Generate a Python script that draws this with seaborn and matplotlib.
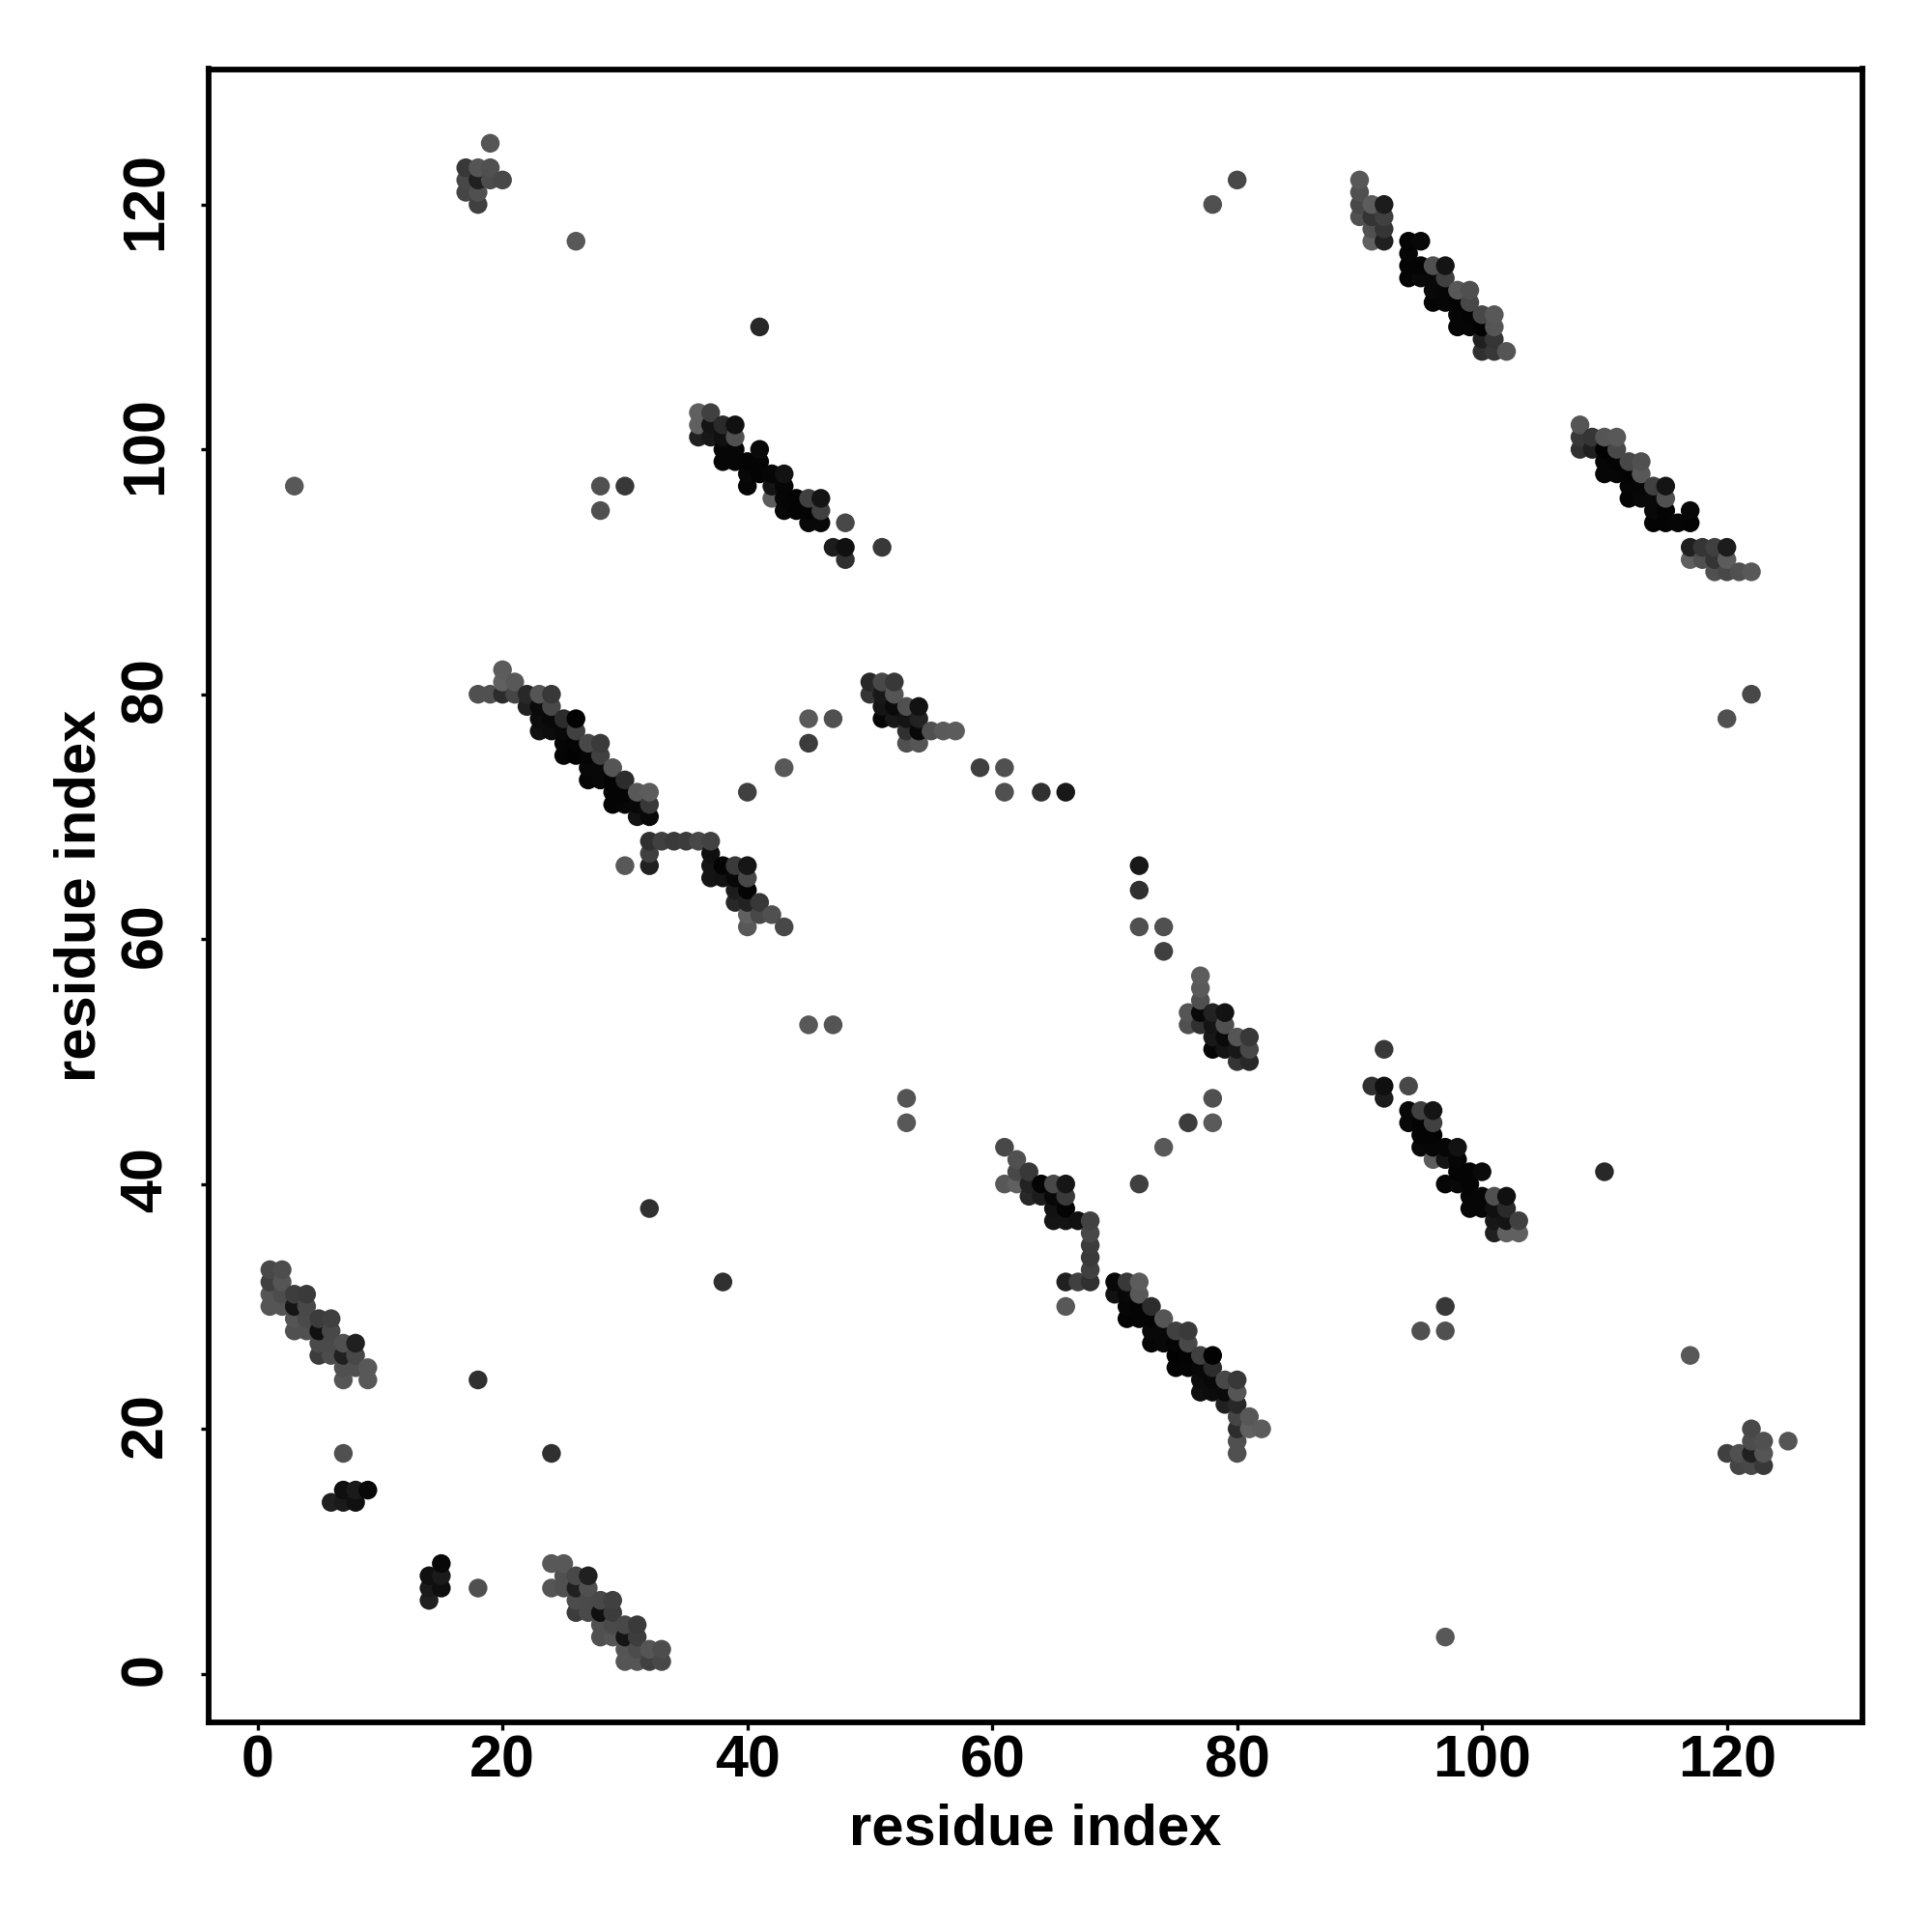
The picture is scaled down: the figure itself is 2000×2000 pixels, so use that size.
# Residue contact map, symmetric so only the i < j half is listed
import pandas as pd
import matplotlib.pyplot as plt
from matplotlib.transforms import ScaledTranslation
import seaborn as sns

# short strand pairs
block_a_i = [1,2, 1,2, 1,2,3,4, 1,2,3,4, 3,4,5,6, 3,4,5,6, 5,6,7,8, 5,6,7,8, 7,8,9, 7,9]
block_a_j = [33,33, 32,32, 31,31,31,31, 30,30,30,30, 29,29,29,29, 28,28,28,28, 27,27,27,27, 26,26,26,26, 25,25,25, 24,24]
block_a_shade = [0x48,0x4d, 0x40,0x55, 0x55,0x4c,0x3d,0x3a, 0x55,0x55,0x15,0x48, 0x55,0x4a,0x3c,0x40,
                 0x50,0x50,0x10,0x48, 0x4a,0x4a,0x50,0x20, 0x3c,0x4c,0x20,0x48, 0x50,0x50,0x58, 0x55,0x58]

block_b_i = [7,8,9, 6,7,8]
block_b_j = [15,15,15, 14,14,14]
block_b_shade = [0x0f,0x1a,0x08, 0x20,0x1a,0x10]

block_c_i = [19, 17,18,19, 17,18,19,20, 17,18, 18]
block_c_j = [125, 123,123,123, 122,122,122,122, 121,121, 120]
block_c_shade = [0x55, 0x38,0x55,0x50, 0x48,0x20,0x4c,0x48, 0x45,0x50, 0x40]

# long helix pairs
block_d_i = [20, 20,21, 18,19,20,21,22,23,24, 22,23,24, 23,24,25,26, 23,24,25,26, 25,26,27,28,
             25,26,27,28, 27,28,29, 27,28,29,30, 29,30,31,32, 29,30,31,32, 31,32]
block_d_j = [82, 81,81, 80,80,80,80,80,80,80, 79,79,79, 78,78,78,78, 77,77,77,77, 76,76,76,76,
             75,75,75,75, 74,74,74, 73,73,73,73, 72,72,72,72, 71,71,71,71, 70,70]
block_d_shade = [0x5c, 0x60,0x58, 0x50,0x50,0x2c,0x45,0x28,0x55,0x38, 0x20,0x0a,0x48,
                 0x0c,0x08,0x2c,0x02, 0x10,0x0c,0x08,0x40, 0x05,0x04,0x48,0x3a,
                 0x04,0x02,0x05,0x40, 0x08,0x08,0x55, 0x06,0x08,0x04,0x2c,
                 0x04,0x04,0x58,0x5c, 0x04,0x06,0x08,0x38, 0x12,0x08]

block_e_i = [32,33,34,35,36,37, 32,37, 32,37,38,39,40, 37,38,39,40, 39,40, 39,40,41, 40,41,42, 40,43]
block_e_j = [68,68,68,68,68,68, 67,67, 66,66,66,66,66, 65,65,65,65, 64,64, 63,63,63, 62,62,62, 61,61]
block_e_shade = [0x30,0x40,0x3a,0x3c,0x48,0x42, 0x40,0x10, 0x20,0x14,0x04,0x3a,0x16,
                 0x14,0x12,0x08,0x48, 0x1c,0x04, 0x28,0x22,0x38, 0x60,0x48,0x50, 0x58,0x48]

block_h_i = [50,51,52, 50,51,52, 51,52,53,54, 51,52,53,54, 53,54,55,56,57, 53,54]
block_h_j = [81,81,81, 80,80,80, 79,79,79,79, 78,78,78,78, 77,77,77,77,77, 76,76]
block_h_shade = [0x28,0x48,0x38, 0x35,0x18,0x55, 0x14,0x0a,0x50,0x12, 0x06,0x18,0x14,0x22,
                 0x30,0x08,0x50,0x5a,0x5c, 0x50,0x55]

block_k_i = [36,37, 36,37,38,39, 36,37,38,39, 38,39,41, 38,39,40,41, 40,41,42,43, 40,42,43,
             42,43,44,45,46, 43,44,45,46, 45,46,48, 47,48, 48]
block_k_j = [103,103, 102,102,102,102, 101,101,101,101, 100,100,100, 99,99,99,99, 98,98,98,98, 97,97,97,
             96,96,96,96,96, 95,95,95,95, 94,94,94, 92,92, 91]
block_k_shade = [0x60,0x40, 0x60,0x14,0x2a,0x10, 0x20,0x18,0x10,0x50, 0x06,0x06,0x0a, 0x06,0x06,0x04,0x04,
                 0x08,0x04,0x06,0x12, 0x06,0x14,0x06, 0x5c,0x06,0x04,0x40,0x14, 0x08,0x04,0x04,0x40,
                 0x08,0x08,0x48, 0x1c,0x10, 0x30]

block_m_i = [90, 90, 90,91,92, 90,91,92, 91,92, 91,92,94,95, 94, 94,95,96,97, 94,95,96,97,
             96,97,98,99, 96,97,98,99, 98,99,100,101, 98,99,100,101, 100,101, 100,101,102]
block_m_j = [122, 121, 120,120,120, 119,119,119, 118,118, 117,117,117,117, 116, 115,115,115,115, 114,114,114,114,
             113,113,113,113, 112,112,112,112, 111,111,111,111, 110,110,110,110, 109,109, 108,108,108]
block_m_shade = [0x58, 0x50, 0x48,0x5c,0x1c, 0x50,0x34,0x40, 0x50,0x35, 0x60,0x20,0x04,0x08, 0x06,
                 0x04,0x04,0x50,0x14, 0x04,0x08,0x08,0x40, 0x08,0x06,0x58,0x50, 0x04,0x06,0x04,0x48,
                 0x06,0x04,0x48,0x58, 0x06,0x06,0x02,0x55, 0x20,0x35, 0x30,0x38,0x55]

# isolated contacts
single_i = [7,18,3,26,41,28,30,28,30,32,40,43,45,45,47,45,47,59,61,61,64,66,78,80,51]
single_j = [18,24,97,117,110,97,97,95,66,38,72,74,76,78,78,53,53,74,74,72,72,72,120,122,92]
single_shade = [0x50,0x30,0x58,0x58,0x28,0x50,0x38,0x50,0x58,0x30,0x40,0x58,0x3c,0x5a,0x50,0x58,0x54,
                0x40,0x50,0x50,0x30,0x18,0x50,0x48,0x38]

block_list = [
    (block_a_i, block_a_j, block_a_shade),
    (block_b_i, block_b_j, block_b_shade),
    (block_c_i, block_c_j, block_c_shade),
    (block_d_i, block_d_j, block_d_shade),
    (block_e_i, block_e_j, block_e_shade),
    (block_h_i, block_h_j, block_h_shade),
    (block_k_i, block_k_j, block_k_shade),
    (block_m_i, block_m_j, block_m_shade),
    (single_i, single_j, single_shade),
]
tick_values = [0, 20, 40, 60, 80, 100, 120]

half = pd.concat([pd.DataFrame({'i': a, 'j': b, 'shade': c}) for a, b, c in block_list])

# mirror across the diagonal
mirror = half.rename(columns={'i': 'j', 'j': 'i'})
contacts = pd.concat([half, mirror]).sort_values(['i', 'j'])
contacts['color'] = ['#%02x%02x%02x' % (s, s, s) for s in contacts['shade']]

sns.set_theme(style='white')
plt.rcParams['font.family'] = ['Liberation Sans', 'DejaVu Sans']
plt.rcParams['font.weight'] = 'bold'

fig = plt.figure(figsize=(10, 10), dpi=200)
ax = fig.add_axes([216 / 2000, 1 - 1783 / 2000, (1928 - 216) / 2000, (1783 - 71.5) / 2000])

palette = {c: c for c in contacts['color'].unique()}
sns.scatterplot(data=contacts, x='i', y='j', hue='color', palette=palette, s=49,
                linewidth=0, legend=False, ax=ax, zorder=3)

ax.set_xlim(-4.0, 131.07)
ax.set_ylim(-3.97, 131.06)
ax.set_xticks(tick_values)
ax.set_yticks(tick_values)
ax.set_xticklabels(tick_values, fontsize=22, fontweight='bold')
ax.set_yticklabels(tick_values, fontsize=22, fontweight='bold', rotation=90, va='center')
ax.tick_params(axis='both', length=2.9, width=1.2, color='black', labelcolor='black',
               bottom=True, left=True)
ax.tick_params(axis='x', pad=1.5)
ax.tick_params(axis='y', pad=10)
for spine in ax.spines.values():
    spine.set_linewidth(2.1)
    spine.set_color('black')

# rotated labels sit a little low otherwise
for label in ax.get_yticklabels():
    label.set_transform(label.get_transform() + ScaledTranslation(0, 1.5 / 72, fig.dpi_scale_trans))

ax.set_xlabel('residue index', fontsize=21.5, fontweight='bold', color='black', labelpad=5)
ax.set_ylabel('residue index', fontsize=21.5, fontweight='bold', color='black', labelpad=4.5)

plt.savefig('out.png', dpi=200)
